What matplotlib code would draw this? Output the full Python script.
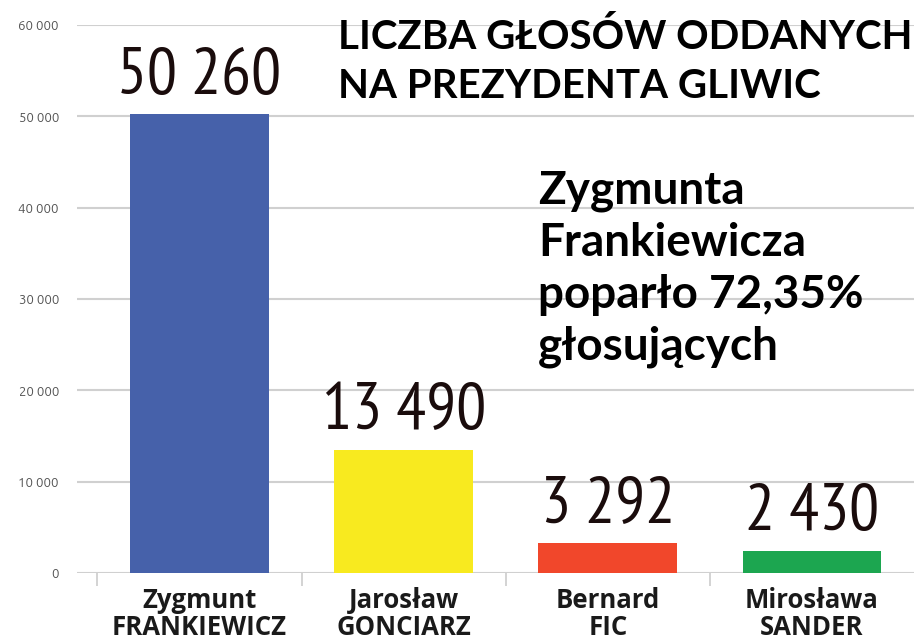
import matplotlib
matplotlib.use("Agg")
import matplotlib.pyplot as plt
from matplotlib.ticker import FuncFormatter, FixedLocator

candidates = ["Zygmunt\nFRANKIEWICZ", "Jarosław\nGONCIARZ", "Bernard\nFIC", "Mirosława\nSANDER"]
votes = [50260, 13490, 3292, 2430]
vote_labels = ["50 260", "13 490", "3 292", "2 430"]
colors = ["#4661AA", "#F8EA1F", "#F1472B", "#1CA650"]
yticks = [0, 10000, 20000, 30000, 40000, 50000, 60000]
title = "LICZBA GŁOSÓW ODDANYCH\nNA PREZYDENTA GLIWIC"
note = "Zygmunta\nFrankiewicza\npoparło 72,35%\ngłosujących"

fig = plt.figure(figsize=(9.14, 6.43), dpi=100)
ax = fig.add_axes([77/914, 1-573/643, 1-77/914, (573-25)/643])

x = list(range(len(votes)))
ax.bar(x, votes, width=0.68, color=colors, zorder=2)
ax.set_xlim(-0.6, 3.5)
ax.set_ylim(0, 60000)
ax.set_yticks(yticks)
ax.yaxis.set_major_formatter(FuncFormatter(lambda v, p: f"{int(v):,}".replace(",", " ")))
ax.grid(axis="y", color="#d0d0d0", lw=1.5, zorder=0)
for s in ax.spines.values():
    s.set_visible(False)
ax.tick_params(axis="y", length=0, pad=13, labelsize=9.5, labelcolor="#555555")
for lab in ax.get_yticklabels():
    lab.set_fontfamily(["Ubuntu", "Open Sans", "DejaVu Sans"])

ax.set_xticks(x)
ax.set_xticklabels(candidates, fontsize=18.5, fontweight="bold", color="#1a1a1a",
                   linespacing=1.0, family=["Open Sans", "DejaVu Sans"])
ax.tick_params(axis="x", which="major", length=0, pad=10)
ax.xaxis.set_minor_locator(FixedLocator([-0.5, 0.5, 1.5, 2.5]))
ax.tick_params(axis="x", which="minor", length=9, width=1.3, color="#d0d0d0", direction="out")

for xi, v, lab in zip(x, votes, vote_labels):
    ax.annotate(lab, (xi, v), xytext=(0, 5), textcoords="offset points",
                ha="center", va="bottom", fontsize=48, color="#1a0c0c",
                family=["Ubuntu Condensed", "PT Sans Narrow", "Open Sans", "DejaVu Sans"],
                fontstretch="condensed")

fig.text(338/914, 1-18/643, title, ha="left", va="top", fontsize=29, fontweight="bold",
         family=["Lato", "DejaVu Sans"], linespacing=1.4, color="black")
fig.text(538/914, 1-170/643, note, ha="left", va="top", fontsize=33, fontweight="bold",
         family=["Lato", "DejaVu Sans"], linespacing=1.29, color="black")

fig.savefig("out.png", dpi=100)
